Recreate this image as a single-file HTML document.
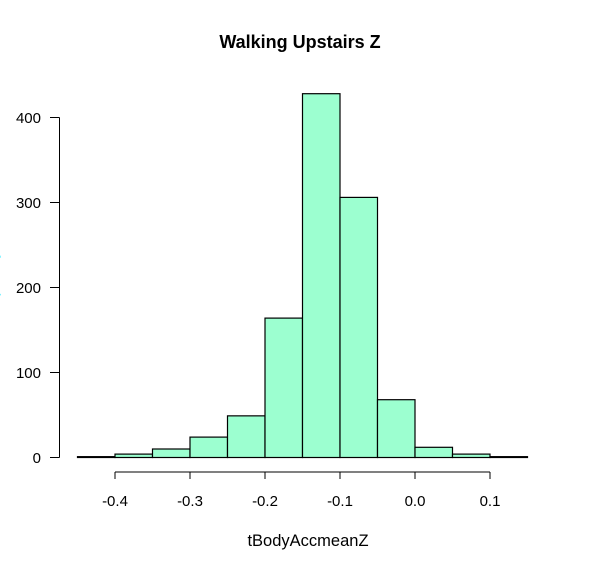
<!DOCTYPE html>
<html><head><meta charset="utf-8"><style>
body{margin:0;background:#fff}
svg text{font-family:"Liberation Sans",Arial,sans-serif}
</style></head><body>
<svg width="601" height="562" id="c">
<text x="300" y="48" text-anchor="middle" font-weight="bold" font-size="18">Walking Upstairs Z</text>
<text x="308" y="546" text-anchor="middle" font-size="16.5">tBodyAccmeanZ</text>
<text transform="translate(-3,288) rotate(-90)" text-anchor="middle" font-size="16" fill="#00e5ff">Frequency</text>
<g id="bars"></g>
<g id="xaxis"></g>
<g id="yaxis"></g>
</svg>
<script>
const binStarts=[-0.45,-0.4,-0.35,-0.3,-0.25,-0.2,-0.15,-0.1,-0.05,0,0.05,0.1];
const counts=[1,4,10,24,49,164,428,306,68,12,4,1];
const binWidth=0.05;
const xTicks=[-0.4,-0.3,-0.2,-0.1,0.0,0.1];
const xTickLabels=["-0.4","-0.3","-0.2","-0.1","0.0","0.1"];
const yTicks=[0,100,200,300,400];
const NS="http://www.w3.org/2000/svg";
const X=v=>115+(v+0.4)*750;
const Y=v=>457.5-v*0.85;
function mk(t,a,p){const e=document.createElementNS(NS,t);for(const k in a)e.setAttribute(k,a[k]);p.appendChild(e);return e;}
const bars=document.getElementById('bars');
binStarts.forEach((s,i)=>{
 const x0=X(s),x1=X(s+binWidth),y=Y(counts[i]);
 const r=mk('rect',{x:x0,y:y,width:x1-x0,height:Y(0)-y,fill:'#9cffd0',stroke:'#000','stroke-width':1.2},bars);
 
 
});
const xa=document.getElementById('xaxis');
mk('line',{x1:X(xTicks[0]),x2:X(xTicks[xTicks.length-1]),y1:472,y2:472,stroke:'#000'},xa);
xTicks.forEach((t,i)=>{
 mk('line',{x1:X(t),x2:X(t),y1:472,y2:479,stroke:'#000'},xa);
 const tx=mk('text',{x:X(t),y:506,'text-anchor':'middle','font-size':15},xa);
 tx.textContent=xTickLabels[i];
 
 
});
const ya=document.getElementById('yaxis');
mk('line',{x1:59.5,x2:59.5,y1:Y(yTicks[yTicks.length-1]),y2:Y(0),stroke:'#000'},ya);
yTicks.forEach(t=>{
 mk('line',{x1:50,x2:59.5,y1:Y(t),y2:Y(t),stroke:'#000'},ya);
 const tx=mk('text',{x:41,y:Y(t)+5.5,'text-anchor':'end','font-size':15},ya);
 tx.textContent=t;
 
 
});
</script>
</body></html>
